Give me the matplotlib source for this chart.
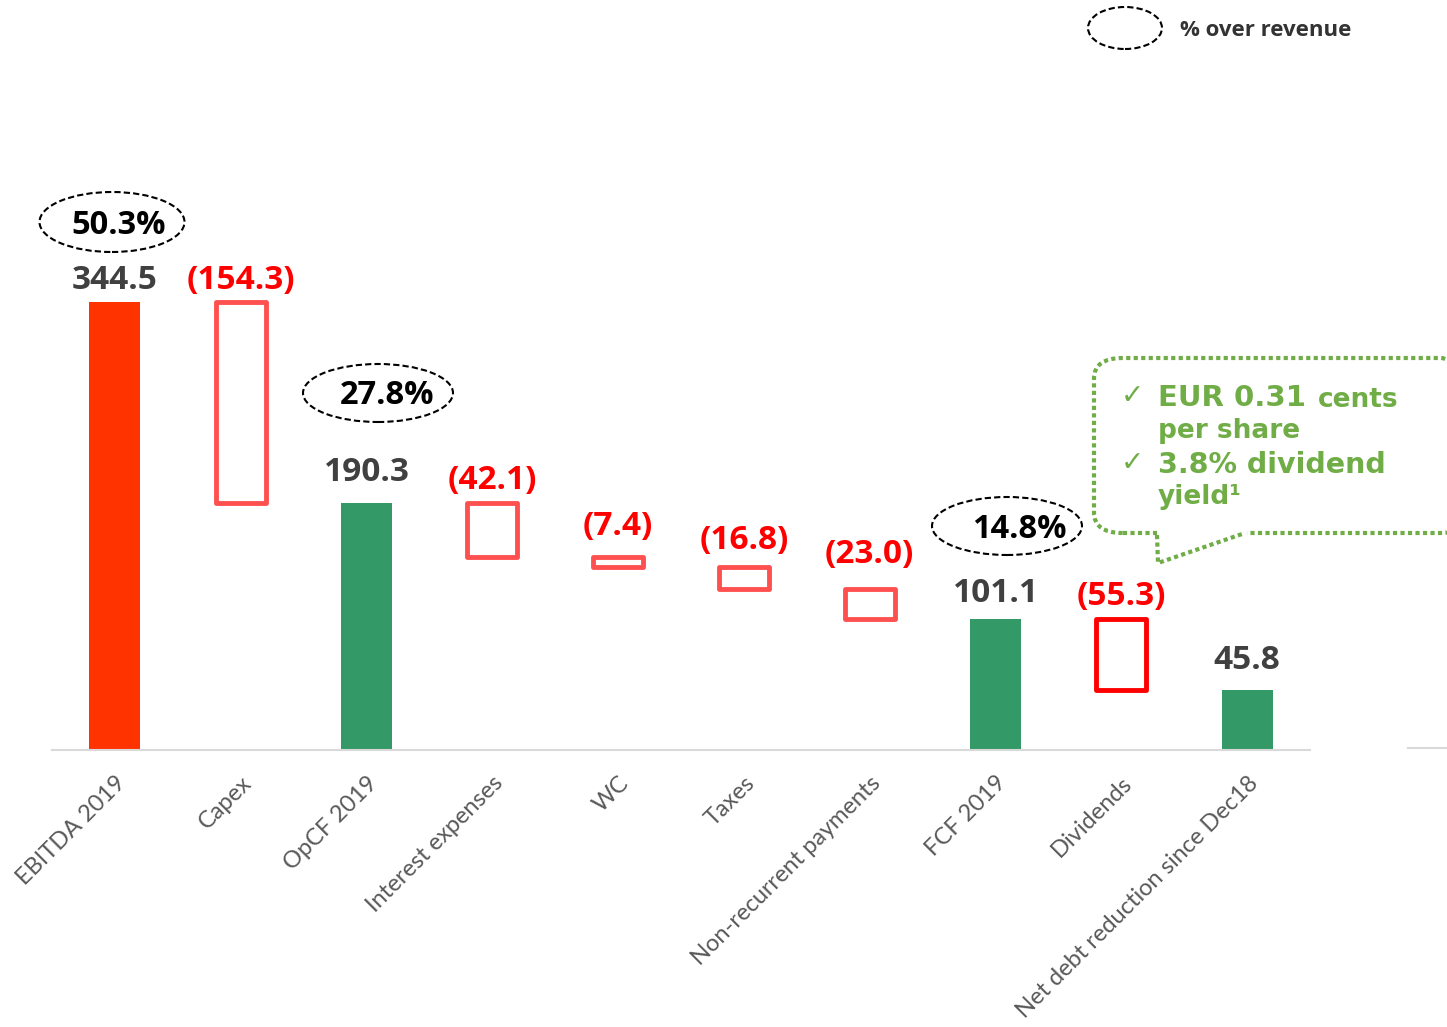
import numpy as np
import matplotlib
matplotlib.use('Agg')
import matplotlib.pyplot as plt
from matplotlib.patches import Ellipse, FancyBboxPatch

#### DATA
categories = ['EBITDA 2019', 'Capex', 'OpCF 2019', 'Interest expenses', 'WC', 'Taxes',
              'Non-recurrent payments', 'FCF 2019', 'Dividends', 'Net debt reduction since Dec18']
values = [344.5, -154.3, 190.3, -42.1, -7.4, -16.8, -23.0, 101.1, -55.3, 45.8]
is_total = [True, False, True, False, False, False, False, True, False, True]
pct_labels = ['50.3%', '27.8%', '14.8%']

# label gap above each bar (points), as in the original slide
label_pad = [4, 4, 10, 4, 10, 7, 13, 6, 4, 10]

W, H = 1447, 1027
fig = plt.figure(figsize=(W / 100, H / 100), dpi=100)
ax = fig.add_axes([52 / W, 1 - 750 / H, 1258 / W, 750 / H])

BOLD = ['Open Sans', 'DejaVu Sans']

def P(x, y):
    # reference pixel -> figure fraction
    return x / W, 1 - y / H

#### waterfall
x = np.arange(len(values))
level = 0.0
for i, v in enumerate(values):
    if is_total[i]:
        col = '#FF3300' if i == 0 else '#339966'
        ax.bar(i, v, width=0.405, color=col, zorder=2)
        level = v
        ax.annotate(f'{v:.1f}', (i, v), xytext=(0, label_pad[i]), textcoords='offset points',
                    ha='center', va='bottom', fontsize=24, fontweight='bold',
                    color='#404040', family=BOLD)
    else:
        edge = '#FF0000' if categories[i] == 'Dividends' else '#FF5050'
        ax.bar(i, -v, bottom=level + v, width=0.4, facecolor='white', edgecolor=edge,
               linewidth=3.5, zorder=2, joinstyle='round')
        ax.annotate(f'({-v:.1f})', (i, level), xytext=(0, label_pad[i]), textcoords='offset points',
                    ha='center', va='bottom', fontsize=24, fontweight='bold',
                    color='#FF0000', family=BOLD)
        level = level + v

ax.set_xlim(-0.5, 9.5)
ax.set_ylim(0, 750 / 1.3)
for s in ['top', 'right', 'left']:
    ax.spines[s].set_visible(False)
ax.spines['bottom'].set_color('#D9D9D9')
ax.spines['bottom'].set_linewidth(1.5)
ax.set_yticks([])
ax.set_xticks(x)
ax.set_xticklabels(categories, rotation=45, ha='right', va='top', rotation_mode='anchor',
                   fontsize=17, color='#595959', family='Lato')
ax.tick_params(axis='x', length=0, pad=16)

# stray axis piece at the right edge
fig.add_artist(plt.Line2D([1408 / W, 1447 / W], [1 - 748 / H] * 2, color='#D9D9D9', lw=1.5))

#### % over revenue ellipses
ell_pos = [(112, 222, 145, 60), (378, 393, 150, 58), (1007, 526, 150, 58)]
txt_pos = [(119, 226), (387, 395), (1019, 530)]
for (ex, ey, ew, eh), (tx, ty), lab in zip(ell_pos, txt_pos, pct_labels):
    fig.add_artist(Ellipse(P(ex, ey), ew / W, eh / H, transform=fig.transFigure,
                           fill=False, edgecolor='black', linestyle=(0, (3, 1.5)), lw=1.5))
    fig.text(*P(tx, ty), lab, ha='center', va='center', fontsize=23.5, fontweight='bold',
             color='black', family=BOLD)

# legend
fig.add_artist(Ellipse(P(1125, 28), 74 / W, 42 / H, transform=fig.transFigure,
                       fill=False, edgecolor='black', linestyle=(0, (3, 1.5)), lw=1.5))
fig.text(*P(1180, 30), '% over revenue', ha='left', va='center', fontsize=16,
         fontweight='bold', color='#333333', family=BOLD)

#### dividend bubble
green = '#70AD47'
x0, y0 = P(1094, 533)
x1, y1 = P(1470, 358)
fig.add_artist(FancyBboxPatch((x0, y0), x1 - x0, y1 - y0, transform=fig.transFigure,
                              boxstyle='round,pad=0,rounding_size=0.02', fill=False,
                              edgecolor=green, linestyle=(0, (1, 0.8)), lw=3))
fig.add_artist(plt.Line2D([1160 / W, 1243 / W], [1 - 533 / H] * 2, color='white', lw=5))
fig.add_artist(plt.Line2D([1157 / W, 1158 / W, 1245 / W],
                          [1 - 535 / H, 1 - 563 / H, 1 - 533 / H],
                          color=green, linestyle=(0, (1, 0.8)), lw=3))
fig.text(*P(1121, 396), '✓', fontsize=20, color=green, ha='left', va='center')
fig.text(*P(1121, 463), '✓', fontsize=20, color=green, ha='left', va='center')
fig.text(*P(1158, 398), 'EUR 0.31', fontsize=21, fontweight='bold', color=green,
         ha='left', va='center', family='DejaVu Sans')
fig.text(*P(1318, 400), 'cents', fontsize=19, fontweight='bold', color=green,
         ha='left', va='center', family='DejaVu Sans')
fig.text(*P(1158, 431), 'per share', fontsize=19, fontweight='bold', color=green,
         ha='left', va='center', family='DejaVu Sans')
fig.text(*P(1158, 465), '3.8% dividend', fontsize=20.5, fontweight='bold', color=green,
         ha='left', va='center', family='DejaVu Sans')
fig.text(*P(1158, 497), 'yield¹', fontsize=19, fontweight='bold', color=green,
         ha='left', va='center', family='DejaVu Sans')

plt.savefig('out.png', dpi=100)
